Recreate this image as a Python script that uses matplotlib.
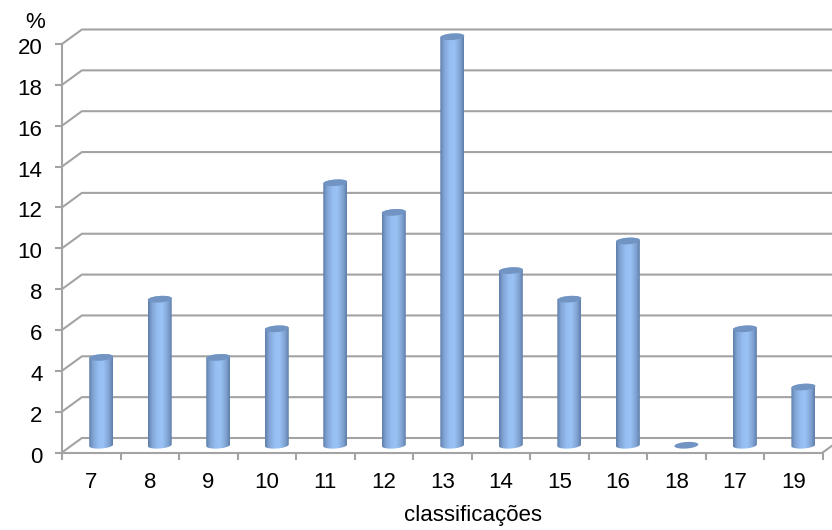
import numpy as np
import matplotlib
matplotlib.use('Agg')
import matplotlib.pyplot as plt
from matplotlib.colors import LinearSegmentedColormap
from matplotlib.patches import Polygon
from matplotlib.transforms import ScaledTranslation

categories = ['7', '8', '9', '10', '11', '12', '13', '14', '15', '16', '18', '17', '19']
values = [4.3, 7.15, 4.3, 5.7, 12.85, 11.4, 20, 8.55, 7.15, 10, 0, 5.7, 2.85]
y_ticks = list(range(0, 21, 2))

GREY = '#a3a3a3'
# depth of the fake 3d box, in axis units
depth_x = 0.34
depth_y = 0.71
bar_half = 0.205
cap_h = 0.16
tilt = 0.04

plt.rcParams['font.family'] = ['Liberation Sans', 'DejaVu Sans']


def arc(cx, cy, t):
    return np.column_stack([cx + bar_half * np.cos(t),
                            cy + cap_h * np.sin(t) + tilt * np.cos(t)])


fig = plt.figure(figsize=(8.32, 5.30), dpi=100)
ax = fig.add_axes([62 / 832, 1 - 452.5 / 530, (822.7 - 62) / 832, (452.5 - 44) / 530])

n = len(categories)

# back wall lines
for v in y_ticks:
    ax.plot([0, depth_x, n + depth_x + 0.3], [v, v + depth_y, v + depth_y],
            color=GREY, lw=1.5, clip_on=False, zorder=1, solid_capstyle='butt')
# floor right edge
ax.plot([n, n + depth_x], [0, depth_y], color=GREY, lw=1.5, clip_on=False, zorder=1)

cmap = LinearSegmentedColormap.from_list(
    'cyl', [(0, '#5f7ea8'), (0.15, '#7fa2d2'), (0.4, '#96bef2'),
            (0.6, '#9ac2f4'), (0.85, '#7fa2d2'), (1, '#5f7ea8')])
grad = np.linspace(0, 1, 64).reshape(1, -1)

for i, v in enumerate(values):
    cx = i + 0.5 + depth_x / 2
    base = depth_y / 2
    top = base + v
    if v > 0:
        low = arc(cx, base, np.linspace(np.pi, 2 * np.pi, 40))
        up = arc(cx, top, np.linspace(0, np.pi, 40))
        body = Polygon(np.vstack([low, up]), closed=True, transform=ax.transData,
                       facecolor='none', edgecolor='none', clip_on=False)
        ax.add_patch(body)
        im = ax.imshow(grad, cmap=cmap, aspect='auto', zorder=3,
                       extent=(cx - bar_half, cx + bar_half, base - cap_h - tilt, top + cap_h + tilt))
        im.set_clip_box(fig.bbox)
        im.set_clip_path(body)
    cap = arc(cx, top, np.linspace(0, 2 * np.pi, 60))
    ax.add_patch(Polygon(cap, closed=True, facecolor='#7294c2', edgecolor='none',
                         zorder=4, clip_on=False))

ax.set_xlim(0, n)
ax.set_ylim(0, 20)

for side in ['top', 'right']:
    ax.spines[side].set_visible(False)
for side in ['left', 'bottom']:
    ax.spines[side].set_color(GREY)
    ax.spines[side].set_linewidth(1.5)
    ax.spines[side].set_zorder(2)

ax.set_yticks(y_ticks)
ax.set_xticks(range(n + 1))
ax.set_xticklabels([])
ax.set_xticks(np.arange(n) + 0.5, categories, minor=True)
ax.tick_params(axis='both', which='major', color=GREY, width=1.5, length=5, labelsize=16)
ax.tick_params(axis='y', which='major', pad=9)
ax.tick_params(axis='x', which='minor', length=0, labelsize=16, pad=14)
ax.patch.set_visible(False)

# y labels sit a touch below their ticks in the original
shift = ScaledTranslation(0, -1.5 / 72, fig.dpi_scale_trans)
for lab in ax.get_yticklabels():
    lab.set_transform(lab.get_transform() + shift)

ax.set_xlabel('classificações', fontsize=16, x=0.54, labelpad=9)
ax.annotate('%', xy=(0, 20), xytext=(-27, 22), xycoords='data', textcoords='offset pixels',
            fontsize=16, ha='center', va='center', annotation_clip=False)

fig.savefig('out.png', dpi=100)
